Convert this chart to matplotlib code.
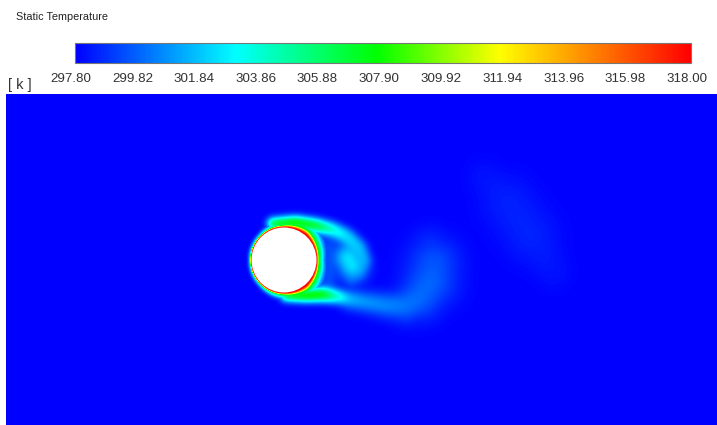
import numpy as np
import matplotlib.pyplot as plt
from matplotlib.colors import LinearSegmentedColormap, Normalize
from matplotlib.patches import Circle
from matplotlib.colorbar import ColorbarBase

# colour scale of the contour plot
t_min, t_max = 297.80, 318.00
tick_values = [297.80, 299.82, 301.84, 303.86, 305.88, 307.90,
               309.92, 311.94, 313.96, 315.98, 318.00]
tick_labels = ["297.80", "299.82", "301.84", "303.86", "305.88", "307.90",
               "309.92", "311.94", "313.96", "315.98", "318.00"]
cmap_stops = [0.0, 0.26, 0.49, 0.69, 1.0]
cmap_colors = ["#0000ff", "#00ffff", "#00ff00", "#ffff00", "#ff0000"]

# cylinder (domain coords = screen pixels, y downward)
cyl_x, cyl_y, cyl_r = 284.0, 260.0, 32.5

# hot wall layer: angle (deg, 0 = downstream), excess T, thickness
wall_theta = [-180, -135, -90, -50, -20, 0, 20, 50, 90, 135, 180]
wall_excess = [19.5, 20.0, 20.2, 21.0, 20.2, 19.5, 20.2, 21.0, 20.2, 20.0, 19.5]
wall_width = [1.6, 1.8, 2.6, 6.0, 3.5, 2.8, 3.5, 6.0, 2.6, 1.8, 1.6]
# warm outer layer around the wall
outer_theta = [-180, -135, -90, -60, -40, 0, 40, 60, 90, 135, 180]
outer_excess = [6.0, 7.0, 11.0, 12.5, 12.0, 10.5, 12.0, 12.5, 11.0, 7.0, 6.0]
outer_width = [3.0, 3.5, 5.5, 10.0, 10.0, 7.0, 10.0, 10.0, 5.5, 3.5, 3.0]

# wake streaks: (x, y, excess T, width)
upper_shear = [(272, 223, 11.0, 5), (295, 222, 11.5, 6), (315, 225, 10.0, 6.5),
               (332, 229, 6.5, 7), (346, 236, 4.8, 8), (358, 247, 4.3, 8),
               (364, 260, 3.8, 7), (360, 273, 3.2, 6), (350, 279, 2.6, 6)]
vortex_core = [(347, 257, 5.0, 14), (352, 266, 5.0, 14)]
rear_gap = [(328, 246, 1.8, 10), (328, 280, 1.8, 10)]
lower_shear = [(285, 295, 11.0, 5), (305, 295, 11.5, 6), (322, 294, 10.5, 7),
               (337, 296, 6.5, 7), (350, 299, 4.0, 7)]
lower_tail = [(350, 299, 4.0, 9), (368, 302, 3.3, 10), (388, 305, 2.9, 12),
              (405, 305, 2.5, 16), (420, 296, 2.2, 22), (430, 280, 2.1, 26),
              (433, 264, 1.8, 26), (430, 248, 1.1, 20)]
far_wake = [(485, 178, 0.4, 20), (508, 203, 0.7, 28), (530, 235, 0.75, 28),
            (552, 270, 0.4, 20)]
streaks = [upper_shear, vortex_core, rear_gap, lower_shear, lower_tail, far_wake]
streak_power = [4, 2, 2, 4, 2, 2]

dom_x0, dom_x1, dom_y0, dom_y1 = 6, 717, 94, 425


def streak_field(X, Y, pts, p):
    out = np.zeros_like(X)
    for (x0, y0, a0, w0), (x1, y1, a1, w1) in zip(pts[:-1], pts[1:]):
        dx, dy = x1 - x0, y1 - y0
        t = ((X - x0) * dx + (Y - y0) * dy) / (dx * dx + dy * dy + 1e-9)
        t = np.clip(t, 0, 1)
        dist = np.hypot(X - x0 - t * dx, Y - y0 - t * dy)
        a = a0 + t * (a1 - a0)
        w = w0 + t * (w1 - w0)
        out = np.maximum(out, a * np.exp(-(dist / w) ** p))
    return out


def blur(a, s):
    k = np.exp(-0.5 * (np.arange(-3 * s, 3 * s + 1) / s) ** 2)
    k /= k.sum()
    a = np.apply_along_axis(lambda r: np.convolve(r, k, mode="same"), 1, a)
    return np.apply_along_axis(lambda c: np.convolve(c, k, mode="same"), 0, a)


xs = np.arange(dom_x0, dom_x1) + 0.5
ys = np.arange(dom_y0, dom_y1) + 0.5
X, Y = np.meshgrid(xs, ys)

R = np.hypot(X - cyl_x, Y - cyl_y)
theta = np.degrees(np.arctan2(Y - cyl_y, X - cyl_x))
d = np.clip(R - cyl_r, 0, None)
wall = np.interp(theta, wall_theta, wall_excess) * \
    np.exp(-(d / np.interp(theta, wall_theta, wall_width)) ** 2)
outer = np.interp(theta, outer_theta, outer_excess) * \
    np.exp(-(d / np.interp(theta, outer_theta, outer_width)) ** 2)

wake = np.zeros_like(X)
for s, p in zip(streaks, streak_power):
    wake = np.maximum(wake, streak_field(X, Y, s, p))
wake = blur(wake, 3.5)

excess = np.maximum(np.maximum(wall, outer), wake)
temp = np.clip(t_min + excess, t_min, t_max)

cmap = LinearSegmentedColormap.from_list("fluent", list(zip(cmap_stops, cmap_colors)))
norm = Normalize(t_min, t_max)

W, H = 717, 425
fig = plt.figure(figsize=(W / 100, H / 100), dpi=100)

ax = fig.add_axes([dom_x0 / W, 0, (dom_x1 - dom_x0) / W, (dom_y1 - dom_y0) / H])
ax.imshow(temp, cmap=cmap, norm=norm, extent=(dom_x0, dom_x1, dom_y1, dom_y0),
          interpolation="bilinear", aspect="auto")
ax.add_patch(Circle((cyl_x, cyl_y), cyl_r, facecolor="white", edgecolor="none"))
ax.set_xlim(dom_x0, dom_x1)
ax.set_ylim(dom_y1, dom_y0)
ax.axis("off")

cax = fig.add_axes([75 / W, (H - 63) / H, 616 / W, 20 / H])
cb = ColorbarBase(cax, cmap=cmap, norm=norm, orientation="horizontal")
cb.outline.set_edgecolor("#777777")
cb.outline.set_linewidth(0.8)
cax.set_xticks([])
for v, lab in zip(tick_values, tick_labels):
    fig.text((75 + (v - t_min) / (t_max - t_min) * 616 - 4) / W, 1 - 78.5 / H, lab,
             ha="center", va="center", fontsize=9.6, color="#333333",
             family="Liberation Sans")

fig.text(8 / W, 1 - 85 / H, "[ k ]", ha="left", va="center", fontsize=10.5,
         color="#333333", family="Liberation Sans")
fig.text(16 / W, 1 - 16.5 / H, "Static Temperature", ha="left", va="center",
         fontsize=7.8, color="#222222", family="Liberation Sans")

fig.savefig("out.png", dpi=100)
